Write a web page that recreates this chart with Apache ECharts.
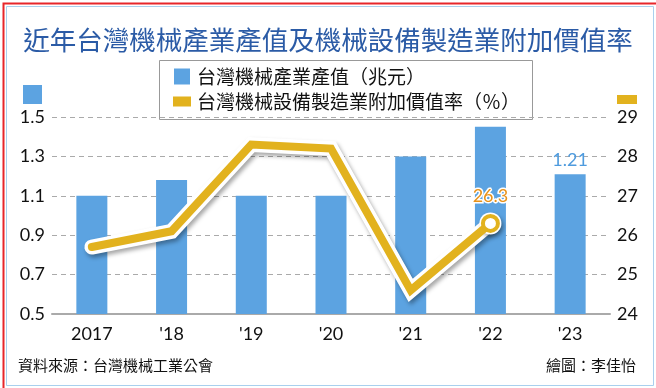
<!DOCTYPE html>
<html>
<head>
<meta charset="utf-8">
<script src="https://cdn.jsdelivr.net/npm/echarts@6/dist/echarts.min.js"></script>
<style>
html,body{margin:0;padding:0;background:#fff;}
#c{width:656px;height:388px;}
</style>
</head>
<body>
<div id="c"></div>
<script>
const categories = ['2017', "'18", "'19", "'20", "'21", "'22", "'23"];
const outputValues = [1.10, 1.18, 1.10, 1.10, 1.30, 1.45, 1.21];
const valueAddedRate = [25.7, 26.1, 28.3, 28.2, 24.6, 26.3];
const leftTicks = { min: 0.5, max: 1.5, interval: 0.2 };
const rightTicks = { min: 24, max: 29, interval: 1 };
const seriesNames = ['台灣機械產業產值（兆元）', '台灣機械設備製造業附加價值率（％）'];

const CJK = '"Noto Sans CJK TC","Noto Sans CJK SC",sans-serif';
const NUM = 'Lato,"Noto Sans",sans-serif';
const BLUE = '#5CA3E1';
const GOLD = '#E2B21E';

const chart = echarts.init(document.getElementById('c'));
const lastIdx = valueAddedRate.length - 1;

chart.setOption({
  backgroundColor: '#fff',
  animation: false,
  title: {
    text: '近年台灣機械產業產值及機械設備製造業附加價值率',
    left: 'center', top: 22,
    textStyle: { color: '#2B5BA6', fontSize: 26.5, fontWeight: 'normal', fontFamily: CJK }
  },
  legend: {
    show: true,
    left: 168, top: 62,
    orient: 'vertical',
    itemGap: 6,
    itemWidth: 16, itemHeight: 16,
    textStyle: { fontSize: 19, color: '#111', fontFamily: CJK, padding: [0, 0, 0, 2] },
    data: [
      { name: seriesNames[0], icon: 'rect', itemStyle: { color: BLUE } },
      { name: seriesNames[1], icon: 'path://M0,4h16v8h-16z', itemStyle: { color: GOLD } }
    ],
    selectedMode: false
  },
  graphic: [
    { type: 'rect', left: 1, top: 1, shape: { width: 654, height: 386 }, style: { fill: 'none', stroke: '#E8262A', lineWidth: 2 }, silent: true },
    { type: 'rect', left: 4, top: 4, shape: { width: 647, height: 379 }, style: { fill: 'none', stroke: '#A9D0EE', lineWidth: 1 }, silent: true },
    { type: 'rect', left: 157, top: 58, shape: { width: 373, height: 59 }, style: { fill: 'none', stroke: '#999', lineWidth: 1 }, silent: true },
    { type: 'rect', left: 23, top: 85, shape: { width: 19, height: 19 }, style: { fill: BLUE }, silent: true },
    { type: 'rect', left: 617, top: 95, shape: { width: 20, height: 9 }, style: { fill: GOLD }, silent: true },
    { type: 'text', left: 18, top: 358, style: { text: '資料來源：台灣機械工業公會', fontSize: 15, fontFamily: CJK, fill: '#111' } },
    { type: 'text', right: 20, top: 358, style: { text: '繪圖：李佳怡', fontSize: 15, fontFamily: CJK, fill: '#111' } }
  ],
  grid: { left: 52, right: 46, top: 117, bottom: 74 },
  xAxis: {
    type: 'category',
    data: categories,
    boundaryGap: true,
    axisLine: { lineStyle: { color: '#aaa', width: 2 } },
    axisTick: { alignWithLabel: true, length: 6, lineStyle: { color: '#aaa', width: 1.5 } },
    axisLabel: { fontSize: 18, color: '#111', fontFamily: NUM, margin: 11 }
  },
  yAxis: [
    {
      type: 'value', min: leftTicks.min, max: leftTicks.max, interval: leftTicks.interval,
      axisLine: { show: false }, axisTick: { show: false },
      axisLabel: { fontSize: 18, color: '#111', fontFamily: NUM, margin: 7, formatter: v => v.toFixed(1) },
      splitLine: { lineStyle: { color: '#aaa', type: [5, 4], width: 1 } }
    },
    {
      type: 'value', min: rightTicks.min, max: rightTicks.max, interval: rightTicks.interval,
      axisLine: { show: false }, axisTick: { show: false },
      axisLabel: { fontSize: 18, color: '#111', fontFamily: NUM, margin: 7 },
      splitLine: { show: false }
    }
  ],
  series: [
    {
      name: seriesNames[0],
      type: 'bar',
      data: outputValues.map((v, i) => i === outputValues.length - 1 ? {
        value: v,
        label: { show: true, position: 'top', distance: 5, color: '#4E9BDE', fontSize: 18, fontFamily: NUM, formatter: '{c}' }
      } : v),
      barWidth: 31,
      itemStyle: { color: BLUE },
      z: 2
    },
    {
      name: seriesNames[1] + '_outline',
      type: 'line',
      yAxisIndex: 1,
      data: valueAddedRate.map((v, i) => i === lastIdx ? { value: v, symbol: 'circle', symbolSize: 22 } : { value: v, symbol: 'none' }),
      showAllSymbol: true,
      itemStyle: { color: '#fff', shadowColor: 'rgba(0,0,0,0.35)', shadowBlur: 4, shadowOffsetX: 2, shadowOffsetY: 3 },
      lineStyle: { color: '#fff', width: 15, cap: 'round', join: 'miter', shadowColor: 'rgba(0,0,0,0.35)', shadowBlur: 4, shadowOffsetX: 2, shadowOffsetY: 3 },
      z: 3, silent: true
    },
    {
      name: seriesNames[1],
      type: 'line',
      yAxisIndex: 1,
      data: valueAddedRate.map((v, i) => i === lastIdx ? {
        value: v, symbol: 'circle', symbolSize: 15,
        label: { show: true, position: 'top', distance: 9, color: '#E8921A', fontSize: 18, fontFamily: NUM, textBorderColor: '#fff', textBorderWidth: 3, formatter: '{c}' }
      } : { value: v, symbol: 'none' }),
      showAllSymbol: true,
      itemStyle: { color: '#fff', borderColor: GOLD, borderWidth: 4 },
      lineStyle: { color: GOLD, width: 8, cap: 'round', join: 'miter' },
      z: 4
    }
  ]
});
</script>
</body>
</html>
